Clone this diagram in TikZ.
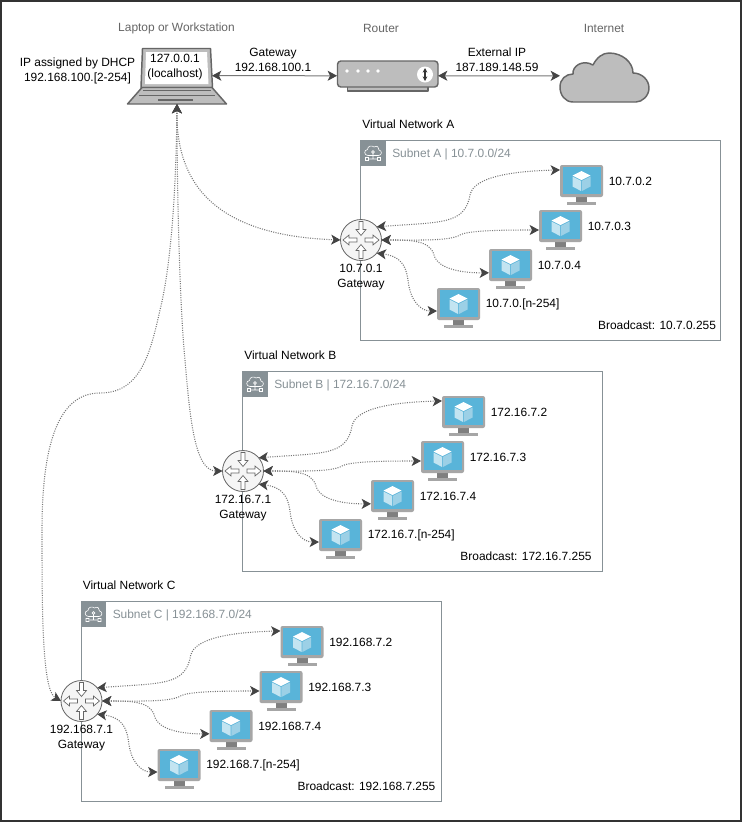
\documentclass[tikz,border=0pt]{standalone}
\usepackage{fontspec}
\setmainfont{Liberation Sans}
\usetikzlibrary{arrows.meta}
\definecolor{linegray}{HTML}{777777}
\definecolor{tipgray}{HTML}{444444}
\definecolor{devfill}{HTML}{BDBDBD}
\definecolor{devline}{HTML}{666666}
\definecolor{awsgray}{HTML}{879196}
\definecolor{vmframe}{HTML}{A6A6A6}
\definecolor{vmstand}{HTML}{7F7F7F}
\definecolor{vmblue}{HTML}{59B4D9}
\definecolor{cubeleft}{HTML}{C3E4F1}
\definecolor{cuberight}{HTML}{9CD0E6}
\tikzset{
  x=0.75pt,y=-0.75pt,
  lbl/.style={font=\fontsize{8.95pt}{11.25pt}\selectfont,text=black,inner sep=0pt,align=center},
  ttl/.style={lbl,text=devline},
  link/.style={draw=linegray,line width=0.75pt,{Stealth[length=7pt,width=7.5pt,inset=1.8pt,color=tipgray]}-{Stealth[length=7pt,width=7.5pt,inset=1.8pt,color=tipgray]}},
  dlink/.style={link,densely dotted,line width=0.8pt},
  hit/.style={inner sep=0pt,outer sep=0pt,minimum width=32.25pt,minimum height=30pt},
  gwnode/.style={circle,draw=devline,fill=black!4,line width=0.6pt,minimum size=30.75pt,inner sep=0pt,outer sep=0pt},
  device/.style={draw=devline,fill=devfill,line width=1.1pt,line join=round},
  pics/barrow/.style={code={\draw[draw=devline,fill=white,line width=0.5pt,line join=miter]
     (0,-2)--(8,-2)--(8,-5)--(14,0)--(8,5)--(8,2)--(0,2)--cycle;}}
}
% name, x, y (centre of the node box)
\newcommand{\vmicon}[3]{%
  \node[hit] (#1) at (#2,#3) {};
  \begin{scope}[shift={(#1.center)}]
    \fill[vmstand] (-5.5,12) rectangle (5.5,17);
    \fill[vmframe] (-14.5,17) rectangle (14.5,20);
    \fill[vmframe,rounded corners=1.5pt] (-21.5,-20) rectangle (21.5,12);
    \fill[vmblue] (-19,-18) rectangle (19,8.5);
    \fill[white] (0,-14)--(9,-9.5)--(0,-5)--(-9,-9.5)--cycle;
    \fill[cubeleft] (-9,-8.5)--(-0.4,-4.2)--(-0.4,6)--(-9,1.5)--cycle;
    \fill[cuberight] (9,-8.5)--(0.4,-4.2)--(0.4,6)--(9,1.5)--cycle;
  \end{scope}}
% suffix, dx, dy, subnet label, ip prefix, broadcast ip, broadcast centre x
\newcommand{\subnetgroup}[7]{%
  \begin{scope}[shift={(#2,#3)}]
    \node[lbl,anchor=west] (title#1) at (362,124.5) {Virtual Network #1};
    \draw[draw=awsgray,line width=0.75pt] (360.5,140.5) rectangle (720.5,340.5);
    \fill[awsgray] (360.5,140.5) rectangle (385.5,165.5);
    \draw[white,line width=0.45pt,line join=round]
      (368,155.5) .. controls (364,155.5) and (363.5,150) .. (367.5,149.5)
      .. controls (367.5,146) and (372,145) .. (374,147)
      .. controls (377,145) and (379.5,147.5) .. (379,150)
      .. controls (382.5,150.5) and (382,155.5) .. (378.5,155.5) -- cycle
      (373,153) -- (373,159) (369,159) -- (377,159);
    \draw[white,line width=0.45pt,fill=awsgray] (373,152) circle (1.4)
      (365.5,157.5) rectangle (368.5,160.5) (377.5,157.5) rectangle (380.5,160.5);
    \node[lbl,text=awsgray,anchor=west] (subnet#1) at (392,154) {#4};
    \vmicon{m#1a}{581.5}{185}
    \vmicon{m#1b}{560.5}{230}
    \vmicon{m#1c}{510.5}{269}
    \vmicon{m#1d}{458.5}{308}
    \node[lbl,anchor=west] (ip#1a) at (608.5,181) {#5.2};
    \node[lbl,anchor=west] (ip#1b) at (587.5,226) {#5.3};
    \node[lbl,anchor=west] (ip#1c) at (537.5,265) {#5.4};
    \node[lbl,anchor=west] (ip#1d) at (485.5,304) {#5.[n-254]};
    \node[gwnode] (gw#1) at (361,240) {};
    \pic[rotate=-90] at (361,221.5) {barrow};
    \pic[rotate=90] at (361,258.5) {barrow};
    \pic[rotate=180] at (357,240) {barrow};
    \pic at (365,240) {barrow};
    \node[lbl] (gwl#1) at (361,277) {#5.1\\Gateway};
    \draw[dlink] (gw#1.40) .. controls (440,222) and (465,225) .. (470,195)
       .. controls (474,175) and (520,171) .. (m#1a.145);
    \draw[dlink] (gw#1.east) .. controls (420,240) and (450,241) .. (460,235)
       .. controls (468,230) and (510,230) .. (m#1b.west);
    \draw[dlink] (gw#1.east) .. controls (410,240) and (430,240) .. (434,255)
       .. controls (438,270) and (465,273) .. (m#1c.190);
    \draw[dlink] (gw#1.-40) .. controls (400,256) and (406,265) .. (408,280)
       .. controls (410,300) and (420,311) .. (m#1d.188);
    \node[lbl] (bc#1) at (#7,325) {Broadcast: #6};
  \end{scope}}
\begin{document}
\begin{tikzpicture}
\useasboundingbox (0,0) rectangle (742,822);
\fill[white] (0,0) rectangle (742,822);
\draw[draw=black!80,line width=1.5pt] (1,1) rectangle (741,821);

% titles
\node[ttl] (tlap) at (176.5,28) {Laptop or Workstation};
\node[ttl] (trou) at (381,28) {Router};
\node[ttl] (tnet) at (604,28) {Internet};

% laptop
\node[inner sep=0pt,outer sep=0pt,minimum width=53.25pt,minimum height=29.25pt] (screen) at (176.5,67.5) {};
\node[inner sep=0pt,outer sep=0pt,minimum width=75pt,minimum height=12.75pt] (base) at (177,95.5) {};
\draw[device] (142.5,48.5) -- (210.5,48.5) -- (212.5,87.5) -- (141,87.5) -- cycle;
\fill[white] (146,52) -- (207,52) -- (208.5,84) -- (145,84) -- cycle;
\draw[device] (142,87.5) -- (212,87.5) -- (226.5,104) -- (127.5,104) -- cycle;
\draw[devline,line width=0.9pt] (143,90.5) -- (211,90.5) (139,95.5) -- (215,95.5) (158,100) -- (193,100);
\node[lbl] (scrtxt) at (175,67.5) {127.0.0.1\\(localhost)};
\node[lbl] (dhcp) at (77.5,71) {IP assigned by DHCP\\192.168.100.[2-254]};

% router
\node[inner sep=0pt,outer sep=0pt,minimum width=75.75pt,minimum height=19.5pt] (router) at (387.5,74) {};
\draw[device,fill=devfill] (347.5,86) rectangle (428,91);
\draw[device,rounded corners=2.5pt] (337.5,61) rectangle (438,87);
\foreach \dx in {347,358,368,378}{\fill[white] (\dx,71) circle (1.8);}
\fill[white] (425,74.5) circle (8);
\draw[black!80,line width=0.8pt,{Stealth[length=3.5pt,width=3.5pt]}-{Stealth[length=3.5pt,width=3.5pt]}] (425,68) -- (425,81);

% cloud
\node[inner sep=0pt,outer sep=0pt,minimum width=66.75pt,minimum height=37.5pt] (cloud) at (604.5,75.8) {};
\draw[device] (573,102) .. controls (565,102) and (560,95) .. (560,87)
  .. controls (560,79) and (566,74) .. (573,74)
  .. controls (572,66) and (583,59) .. (593,65)
  .. controls (597,57) and (603,53) .. (609,53)
  .. controls (622,53) and (633,62) .. (633,73)
  .. controls (642,73) and (649,80) .. (649,88)
  .. controls (649,96) and (642,102) .. (636,102) -- cycle;

% top links
\draw[link] (screen.-13) -- (router.182);
\draw[link] (router.-2) -- (cloud.west);
\node[lbl] (gwlab) at (273,59.5) {Gateway\\192.168.100.1};
\node[lbl] (extlab) at (497,59.5) {External IP\\187.189.148.59};

% subnets
\subnetgroup{A}{0}{0}{Subnet A | 10.7.0.0/24}{10.7.0}{10.7.0.255}{657}
\subnetgroup{B}{-118}{231}{Subnet B | 172.16.7.0/24}{172.16.7}{172.16.7.255}{644}
\subnetgroup{C}{-279.5}{461}{Subnet C | 192.168.7.0/24}{192.168.7}{192.168.7.255}{646}

% links to the laptop
\draw[dlink] (base.south) .. controls (176,175) and (205,235) .. (gwA.west);
\draw[dlink] (base.south) .. controls (177,200) and (180,310) .. (185,360)
   .. controls (190,420) and (195,471) .. (gwB.west);
\draw[dlink] (base.south) .. controls (176,200) and (170,270) .. (160,310)
   .. controls (150,355) and (140,393) .. (100,393)
   .. controls (60,393) and (42,440) .. (42,530)
   .. controls (42,610) and (42,690) .. (gwC.west);
\end{tikzpicture}
\end{document}
